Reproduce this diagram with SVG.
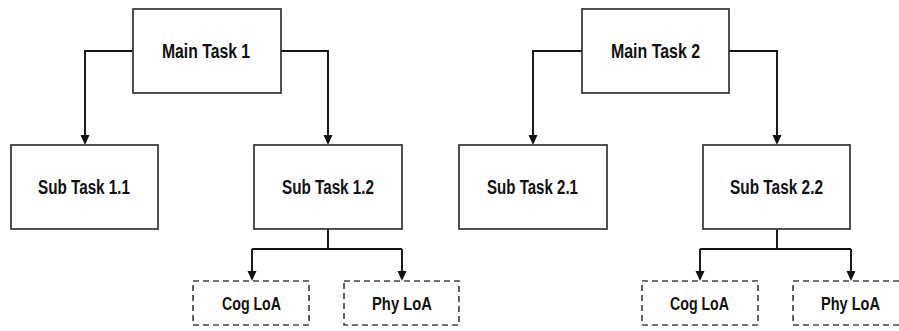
<svg xmlns="http://www.w3.org/2000/svg" width="899" height="331" viewBox="0 0 899 331">
<defs>
<path id="ah" d="M-4.5,0 L4.5,0 L0,10 Z" fill="#111"/>
<style>
.box{fill:#fff;stroke:#333;stroke-width:1.7}
.dbox{fill:#fff;stroke:#444;stroke-width:1.7;stroke-dasharray:6 4}
.lbl{font-family:"Liberation Sans",Arial,sans-serif;font-weight:bold;font-size:20px;fill:#111;text-anchor:middle}
.sm{font-size:18.5px}
.con{fill:none;stroke:#111;stroke-width:1.9}
</style>
</defs>
<rect width="899" height="331" fill="#fff"/>
<g id="connectors">
<path class="con" d="M133,51 H85 V136"/>
<use href="#ah" x="85" y="135"/>
<path class="con" d="M281,51 H328 V136"/>
<use href="#ah" x="328" y="135"/>
<path class="con" d="M328,229 V249 M252,249 H402 M252,249 V272 M402,249 V272"/>
<use href="#ah" x="252" y="271"/>
<use href="#ah" x="402" y="271"/>
<path class="con" d="M582,51 H533 V136"/>
<use href="#ah" x="533" y="135"/>
<path class="con" d="M729,51 H777 V136"/>
<use href="#ah" x="777" y="135"/>
<path class="con" d="M777,229 V249 M700,249 H851 M700,249 V272 M851,249 V272"/>
<use href="#ah" x="700" y="271"/>
<use href="#ah" x="851" y="271"/>
</g>
<g id="main1"><rect class="box" x="133" y="9" width="148" height="84"/><text class="lbl" x="206" y="57.5" textLength="88" lengthAdjust="spacingAndGlyphs">Main Task 1</text></g>
<g id="sub11"><rect class="box" x="11" y="145" width="147" height="84"/><text class="lbl" x="84" y="194" textLength="92" lengthAdjust="spacingAndGlyphs">Sub Task 1.1</text></g>
<g id="sub12"><rect class="box" x="254" y="145" width="148" height="84"/><text class="lbl" x="328" y="194" textLength="92" lengthAdjust="spacingAndGlyphs">Sub Task 1.2</text></g>
<g id="cog1"><rect class="dbox" x="193" y="281" width="116" height="44"/><text class="lbl sm" x="251.5" y="310" textLength="59" lengthAdjust="spacingAndGlyphs">Cog LoA</text></g>
<g id="phy1"><rect class="dbox" x="344" y="281" width="115" height="44"/><text class="lbl sm" x="402" y="310" textLength="60" lengthAdjust="spacingAndGlyphs">Phy LoA</text></g>
<g id="main2"><rect class="box" x="582" y="9" width="147" height="84"/><text class="lbl" x="655.5" y="57.5" textLength="89" lengthAdjust="spacingAndGlyphs">Main Task 2</text></g>
<g id="sub21"><rect class="box" x="459" y="145" width="148" height="84"/><text class="lbl" x="532.5" y="194" textLength="91" lengthAdjust="spacingAndGlyphs">Sub Task 2.1</text></g>
<g id="sub22"><rect class="box" x="703" y="145" width="147" height="84"/><text class="lbl" x="776.5" y="194" textLength="93" lengthAdjust="spacingAndGlyphs">Sub Task 2.2</text></g>
<g id="cog2"><rect class="dbox" x="642" y="281" width="116" height="44"/><text class="lbl sm" x="699.5" y="310" textLength="59" lengthAdjust="spacingAndGlyphs">Cog LoA</text></g>
<g id="phy2"><rect class="dbox" x="793" y="281" width="116" height="44"/><text class="lbl sm" x="850.5" y="310" textLength="59" lengthAdjust="spacingAndGlyphs">Phy LoA</text></g>
</svg>
